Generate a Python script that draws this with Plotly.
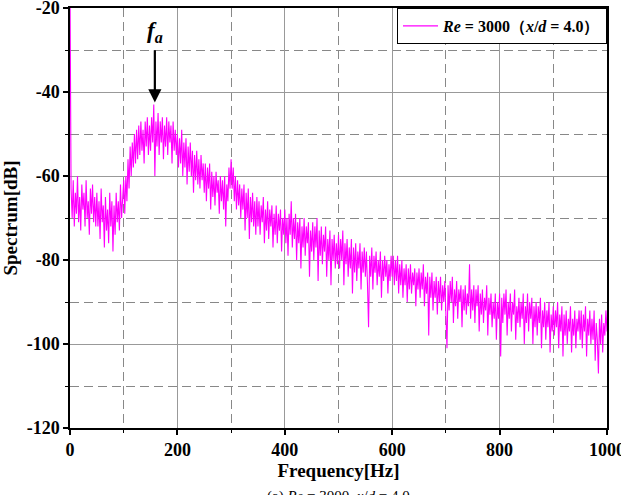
import plotly.graph_objects as go

freq_step = 2
spectrum_db = [
    # 0-48 Hz
    -15, -63, -70, -61, -72, -64, -69, -60, -71, -65, -73, -62, -68, -64, -72, -61, -70, -66, -74, -63, -69, -62, -71, -65, -72,
    # 50-98
    -64, -72, -66, -75, -63, -71, -67, -77, -65, -73, -68, -76, -64, -72, -66, -78, -67, -74, -64, -71, -66, -73, -62, -70, -64,
    # 100-148
    -61, -69, -60, -66, -56, -63, -53, -60, -52, -58, -50, -57, -49, -56, -48, -55, -47, -54, -49, -57, -47, -53, -46, -55, -48,
    # 150-198
    -54, -46, -52, -43, -60, -47, -53, -45, -55, -47, -52, -46, -56, -48, -53, -46, -55, -47, -52, -48, -57, -47, -54, -49, -55,
    # 200-248
    -50, -58, -51, -57, -49, -60, -52, -58, -51, -62, -53, -59, -52, -60, -54, -64, -55, -61, -54, -62, -56, -63, -55, -61, -57,
    # 250-298
    -64, -57, -66, -58, -63, -57, -68, -59, -65, -60, -67, -59, -64, -61, -69, -60, -66, -61, -68, -60, -72, -62, -66, -58, -63,
    # 300-348
    -56, -63, -58, -66, -60, -68, -61, -67, -62, -70, -63, -68, -62, -73, -64, -70, -63, -75, -65, -71, -64, -72, -66, -74, -65,
    # 350-398
    -72, -66, -74, -67, -71, -65, -76, -68, -73, -66, -75, -68, -72, -67, -77, -69, -74, -67, -76, -69, -73, -68, -78, -70, -74,
    # 400-448
    -68, -76, -70, -79, -69, -74, -66, -77, -70, -75, -69, -80, -71, -76, -70, -82, -72, -77, -70, -79, -72, -76, -71, -84, -73,
    # 450-498
    -78, -71, -80, -72, -77, -70, -85, -73, -79, -72, -81, -74, -78, -72, -84, -75, -80, -73, -86, -75, -80, -74, -82, -76, -81,
    # 500-548
    -74, -82, -75, -80, -73, -86, -76, -81, -75, -84, -77, -82, -75, -88, -77, -83, -76, -85, -78, -82, -76, -87, -78, -83, -77,
    # 550-598
    -84, -78, -86, -96, -79, -84, -77, -87, -79, -83, -78, -86, -80, -84, -78, -89, -80, -85, -79, -84, -80, -88, -81, -85, -79,
    # 600-648
    -84, -79, -86, -80, -85, -79, -88, -81, -86, -80, -89, -82, -86, -81, -90, -82, -87, -81, -88, -83, -86, -82, -91, -83, -87,
    # 650-698
    -82, -89, -83, -87, -81, -91, -84, -88, -83, -98, -84, -89, -83, -92, -85, -89, -84, -93, -85, -90, -84, -92, -86, -90, -85,
    # 700-748
    -91, -101, -86, -92, -85, -90, -84, -95, -87, -91, -85, -94, -87, -90, -86, -96, -87, -92, -86, -93, -88, -91, -81, -94, -87,
    # 750-798
    -92, -86, -95, -87, -91, -86, -97, -88, -93, -87, -95, -89, -92, -86, -98, -89, -93, -88, -96, -90, -94, -88, -99, -90, -94,
    # 800-848
    -88, -103, -89, -95, -88, -93, -87, -98, -90, -94, -88, -97, -90, -93, -87, -99, -91, -95, -89, -96, -90, -94, -88, -100, -91,
    # 850-898
    -95, -88, -97, -90, -94, -89, -100, -91, -96, -90, -98, -91, -95, -89, -101, -92, -96, -90, -99, -92, -96, -90, -102, -93, -97,
    # 900-948
    -91, -98, -92, -96, -90, -101, -93, -97, -91, -103, -93, -98, -92, -100, -94, -97, -91, -102, -94, -98, -92, -101, -94, -97, -92,
    # 950-998
    -99, -92, -101, -93, -97, -91, -103, -94, -98, -92, -100, -94, -99, -92, -104, -95, -99, -107, -94, -100, -93, -102, -95, -98, -92,
    # 1000
    -97,
]
frequency_hz = [i * freq_step for i in range(len(spectrum_db))]

x_ticks = [0, 200, 400, 600, 800, 1000]
y_ticks = [-120, -100, -80, -60, -40, -20]
peak_freq = 158
peak_db = -42.5

serif = "Liberation Serif, Times New Roman, serif"

fig = go.Figure()
fig.add_trace(go.Scatter(
    x=frequency_hz, y=spectrum_db, mode="lines",
    line=dict(color="#FF00FF", width=1.1),
    name="<b><i>Re</i> = 3000（<i>x</i>/<i>d</i> = 4.0）</b>",
    showlegend=True,
))

axis_common = dict(
    showline=True, linecolor="black", linewidth=1.5, mirror=True,
    ticks="outside", ticklen=5, tickwidth=1.5, tickcolor="black",
    showgrid=True, gridcolor="#999999", gridwidth=1,
    zeroline=False, automargin=False, ticklabeloverflow="allow",
    tickfont=dict(family=serif, size=18, color="black", weight="bold"),
)

fig.update_xaxes(
    range=[0, 1000], tickvals=x_ticks, ticktext=[str(v) for v in x_ticks],
    title=dict(text="<b>Frequency[Hz]</b>", font=dict(family=serif, size=19, color="black"), standoff=3),
    minor=dict(dtick=100, tick0=0, showgrid=True, gridcolor="#888888", griddash="9px,5px",
               ticks="outside", ticklen=3, tickcolor="black", tickwidth=1.2),
    **axis_common,
)
fig.update_yaxes(
    range=[-120, -20], tickvals=y_ticks, ticktext=[str(v) for v in y_ticks],
    title=dict(text="<b>Spectrum[dB]</b>", font=dict(family=serif, size=19, color="black"), standoff=4),
    minor=dict(dtick=10, tick0=-120, showgrid=True, gridcolor="#888888", griddash="9px,5px",
               ticks="outside", ticklen=3, tickcolor="black", tickwidth=1.2),
    **axis_common,
)

fig.add_annotation(
    x=peak_freq, y=peak_db, ax=peak_freq, ay=-29.8,
    xref="x", yref="y", axref="x", ayref="y",
    text=" ", font=dict(size=1), borderpad=0, startstandoff=0, standoff=0,
    showarrow=True, arrowhead=2, arrowsize=1.2, arrowwidth=2.2, arrowcolor="black",
)
fig.add_annotation(
    x=peak_freq, y=-29.6, xref="x", yref="y", yanchor="bottom",
    text="<b><i>f<sub>a</sub></i></b>", showarrow=False,
    font=dict(family=serif, size=23, color="black"),
)
fig.add_annotation(
    x=0.5, y=-0.137, xref="paper", yref="paper", xanchor="center", yanchor="top",
    text="(a) <i>Re</i> = 3000, <i>x</i>/<i>d</i> = 4.0", showarrow=False,
    font=dict(family=serif, size=15, color="black"),
)

fig.update_layout(
    width=621, height=495,
    margin=dict(l=70, r=14, t=8, b=67, autoexpand=False),
    paper_bgcolor="white", plot_bgcolor="white",
    legend=dict(x=1, y=1, xanchor="right", yanchor="top",
                bgcolor="white", bordercolor="black", borderwidth=1,
                font=dict(family=serif, size=16, color="black"),
                itemwidth=35, tracegroupgap=0),
    showlegend=True,
)

fig.write_html("out.html")
